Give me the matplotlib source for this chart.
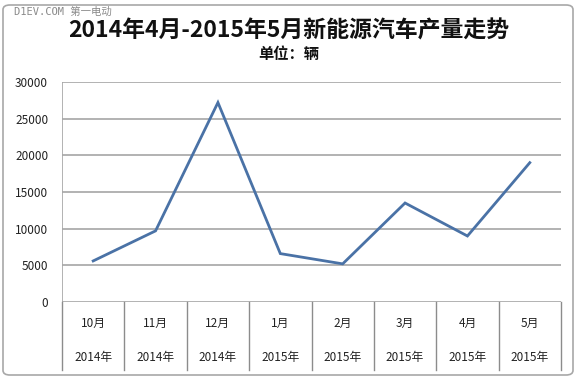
import matplotlib
matplotlib.use("Agg")
import matplotlib.pyplot as plt
from matplotlib.patches import FancyBboxPatch
import matplotlib.transforms as mtransforms

plt.rcParams['font.family'] = ['Noto Sans CJK SC', 'DejaVu Sans']

months = ["10月", "11月", "12月", "1月", "2月", "3月", "4月", "5月"]
years = ["2014年", "2014年", "2014年", "2015年", "2015年", "2015年", "2015年", "2015年"]
output = [5600, 9700, 27200, 6600, 5200, 13500, 9000, 19000]
y_ticks = [0, 5000, 10000, 15000, 20000, 25000, 30000]

W, H = 577, 384
fig = plt.figure(figsize=(W / 100, H / 100), dpi=100)

# outer chart frame, kept behind the axes
frame = FancyBboxPatch((3 / W, (H - 375) / H), 570 / W, 370 / H,
                       boxstyle="round,pad=0,rounding_size=0.012",
                       transform=fig.transFigure, facecolor="white",
                       edgecolor="#a8a8a8", linewidth=1.2, zorder=-10)
fig.patches.append(frame)

ax = fig.add_axes([62 / W, (H - 302) / H, (561 - 62) / W, (302 - 82) / H])
ax.set_facecolor("none")
ax.set_zorder(5)

x = list(range(len(output)))
ax.plot(x, output, color="#4a72a6", linewidth=2.0, solid_joinstyle="miter", zorder=3)

ax.set_xlim(-0.5, len(output) - 0.5)
ax.set_ylim(0, 30000)
ax.set_yticks(y_ticks)
ax.set_yticklabels([str(v) for v in y_ticks], fontsize=8.5, color="#222222")
ax.tick_params(axis="y", length=0, pad=10)
ax.set_xticks([])
for v in y_ticks:
    ax.axhline(v, color="#a6a6a6", linewidth=1.2, zorder=1)

for s in ["top", "right", "left", "bottom"]:
    ax.spines[s].set_visible(False)
ax.axvline(-0.5, color="#a6a6a6", linewidth=1.2, zorder=1)

# category table under the axis
trans = mtransforms.blended_transform_factory(ax.transData, fig.transFigure)
for i in range(len(output) + 1):
    ax.plot([i - 0.5, i - 0.5], [(H - 302) / H, (H - 370) / H], transform=trans,
            color="#8c8c8c", linewidth=1.0, clip_on=False)
for i, (m, yr) in enumerate(zip(months, years)):
    ax.text(i, (H - 323) / H, m, transform=trans, ha="center", va="center",
            fontsize=8.5, color="#222222")
    ax.text(i, (H - 357) / H, yr, transform=trans, ha="center", va="center",
            fontsize=8.5, color="#222222")

fig.text(0.5, (H - 31) / H, "2014年4月-2015年5月新能源汽车产量走势", ha="center",
         va="center", fontsize=16.5, fontweight="bold", color="#111111")
fig.text(0.5, (H - 54) / H, "单位：辆", ha="center", va="center",
         fontsize=11, fontweight="bold", color="#111111")
fig.text(14 / W, (H - 12) / H, "D1EV.COM 第一电动", ha="left", va="center",
         fontsize=7.5, color="#8a8a8a",
         family=['DejaVu Sans Mono', 'Noto Sans CJK SC'])

fig.savefig("out.png", dpi=100)
